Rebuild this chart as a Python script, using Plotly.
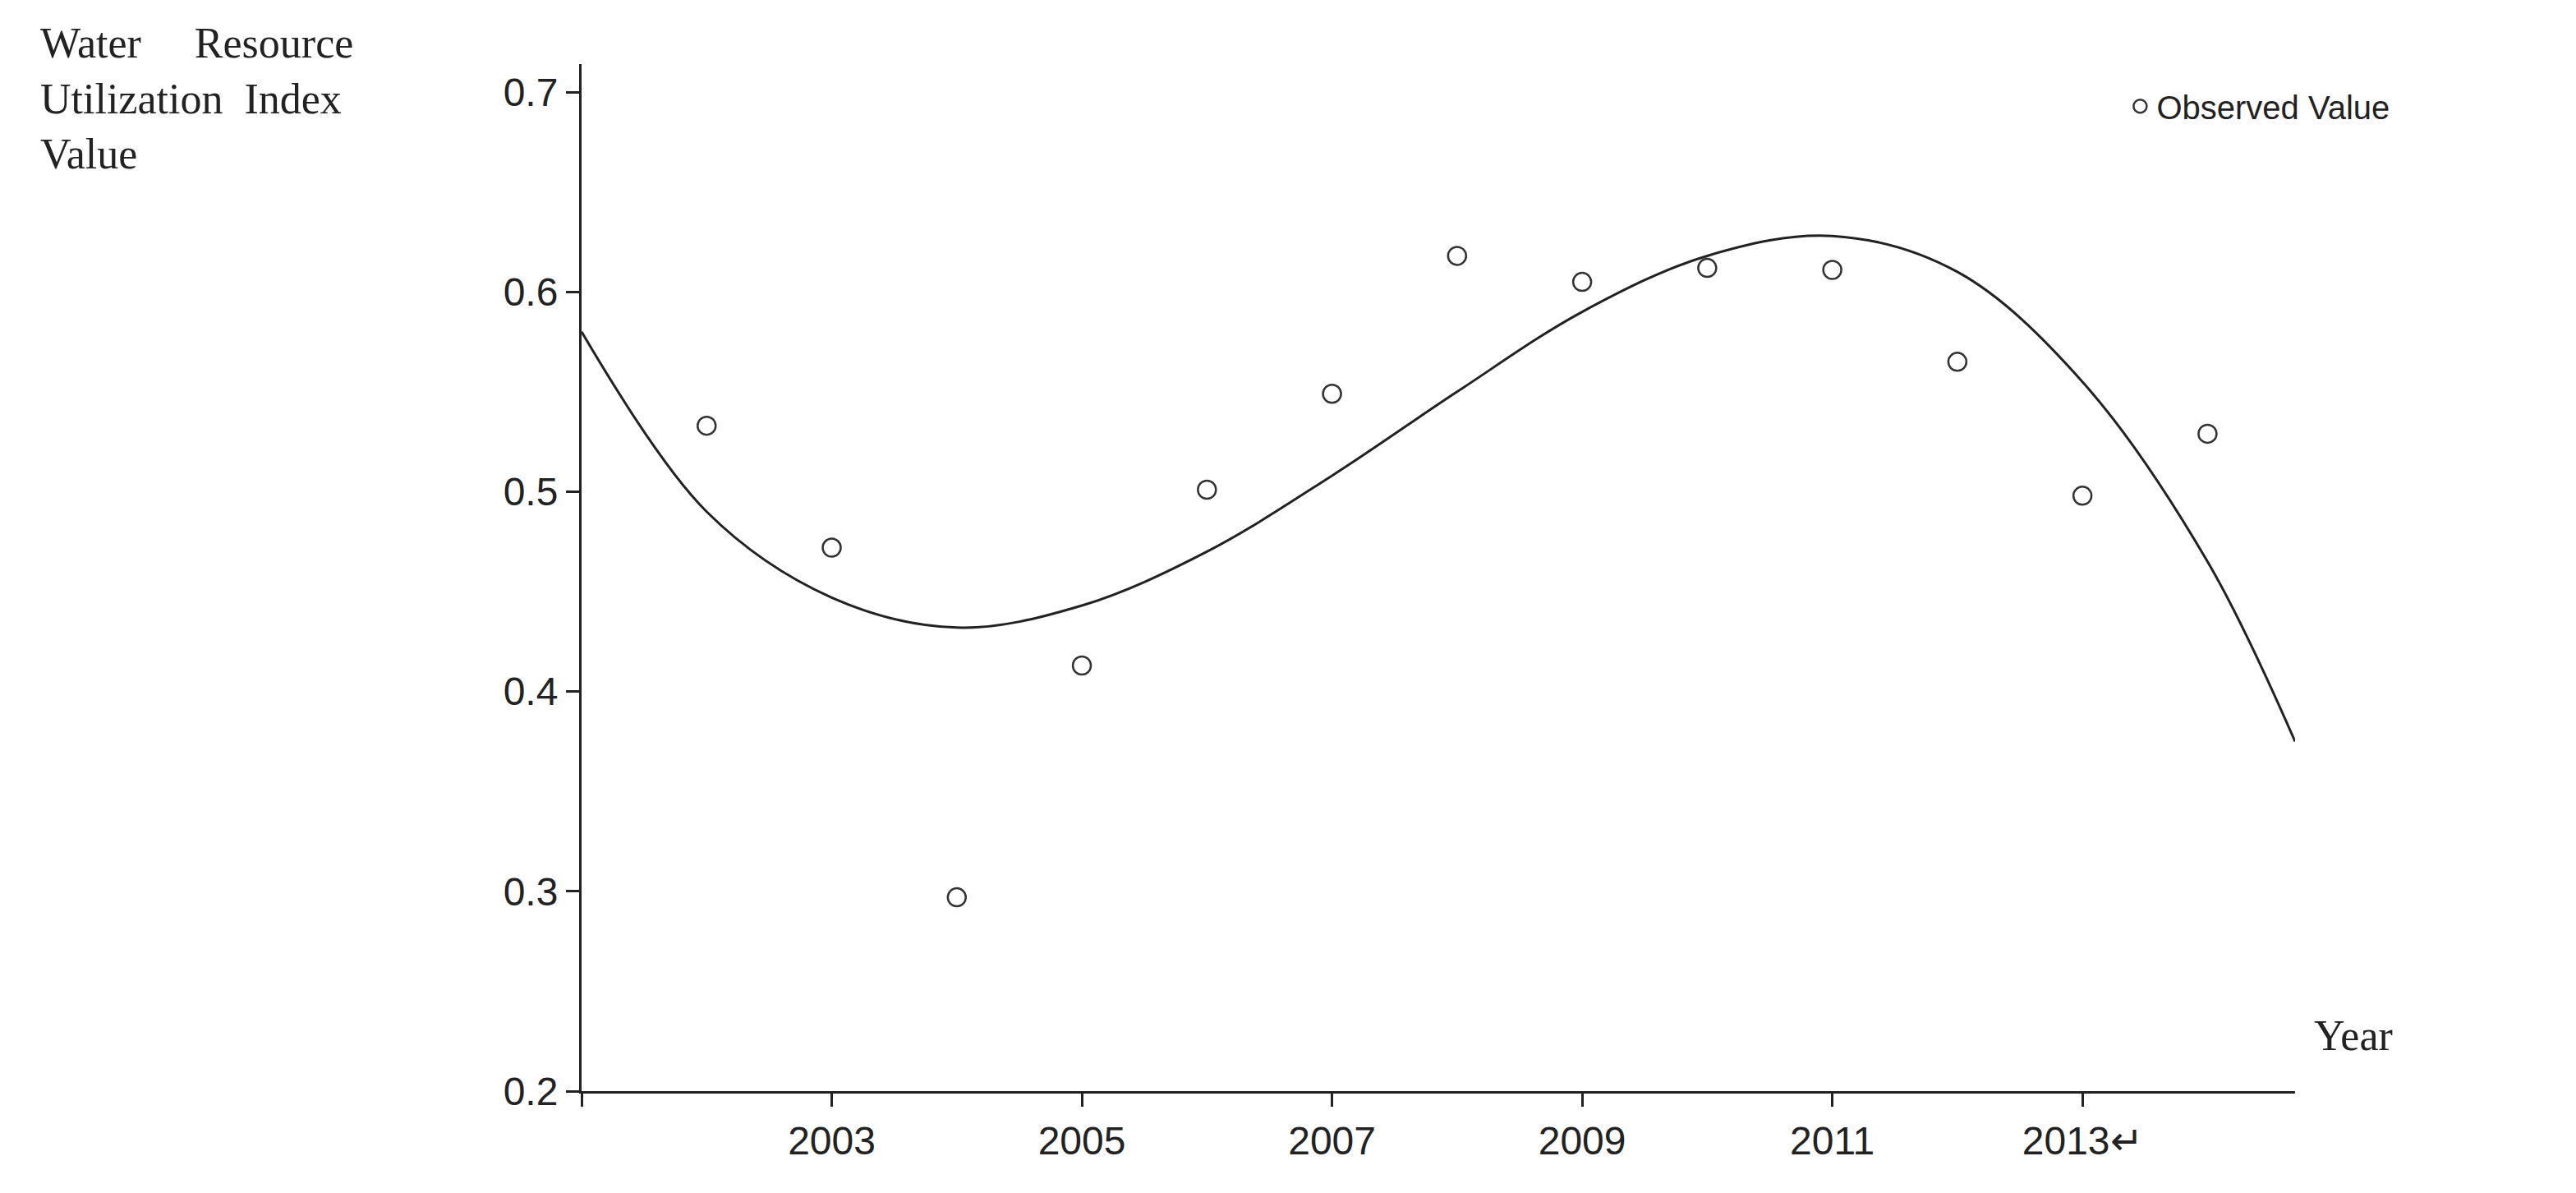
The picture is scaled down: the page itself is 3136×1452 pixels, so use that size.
import plotly.graph_objects as go

# observed values
years = [2002, 2003, 2004, 2005, 2006, 2007, 2008, 2009, 2010, 2011, 2012, 2013, 2014]
observed = [0.533, 0.472, 0.297, 0.413, 0.501, 0.549, 0.618, 0.605, 0.612, 0.611, 0.565, 0.498, 0.529]

# fitted curve
curve_x = [2001, 2002, 2003, 2004, 2005, 2006, 2007, 2008, 2009, 2010, 2011, 2012, 2013, 2014, 2014.7]
curve_y = [0.58, 0.49, 0.447, 0.432, 0.443, 0.47, 0.508, 0.55, 0.59, 0.618, 0.628, 0.61, 0.555, 0.465, 0.375]

tick_years = [2001, 2003, 2005, 2007, 2009, 2011, 2013]
tick_text = ["", "2003", "2005", "2007", "2009", "2011", "2013\u21b5"]

fig = go.Figure()
fig.add_trace(go.Scatter(x=curve_x, y=curve_y, mode="lines", line=dict(color="#222", width=3, shape="spline"),
                         showlegend=False, hoverinfo="skip"))
fig.add_trace(go.Scatter(x=years, y=observed, mode="markers", name="Observed Value",
                         marker=dict(symbol="circle-open", size=22, color="#333", line=dict(width=2.5))))

fig.update_layout(
    width=3136, height=1452,
    plot_bgcolor="white", paper_bgcolor="white",
    margin=dict(l=700, r=350, t=70, b=132),
    font=dict(family="Liberation Sans", size=48, color="#222"),
    legend=dict(x=0.9, y=0.985, xanchor="left", yanchor="top", font=dict(size=40),
                bgcolor="rgba(0,0,0,0)"),
    showlegend=True,
)
fig.update_xaxes(range=[2001, 2014.7], tickvals=tick_years, ticktext=tick_text,
                 showgrid=False, zeroline=False, showline=True, linecolor="#222", linewidth=3,
                 ticks="outside", ticklen=16, tickwidth=3, tickcolor="#222")
fig.update_yaxes(range=[0.2, 0.714], tickvals=[0.2, 0.3, 0.4, 0.5, 0.6, 0.7],
                 ticktext=["0.2", "0.3", "0.4", "0.5", "0.6", "0.7"],
                 showgrid=False, zeroline=False, showline=True, linecolor="#222", linewidth=3,
                 ticks="outside", ticklen=16, tickwidth=3, tickcolor="#222")

serif = dict(family="Liberation Serif", size=52, color="#222")
fig.add_annotation(xref="paper", yref="paper", x=-0.317, y=1.045, xanchor="left", yanchor="top",
                   text="Water&nbsp;&nbsp;&nbsp;&nbsp;&nbsp;Resource<br>Utilization&nbsp;&nbsp;Index<br>Value",
                   align="left", showarrow=False, font=serif)
fig.add_annotation(xref="paper", yref="paper", x=1.01, y=0.03, xanchor="left", yanchor="bottom",
                   text="Year", showarrow=False, font=serif)

fig.write_html("out.html")
